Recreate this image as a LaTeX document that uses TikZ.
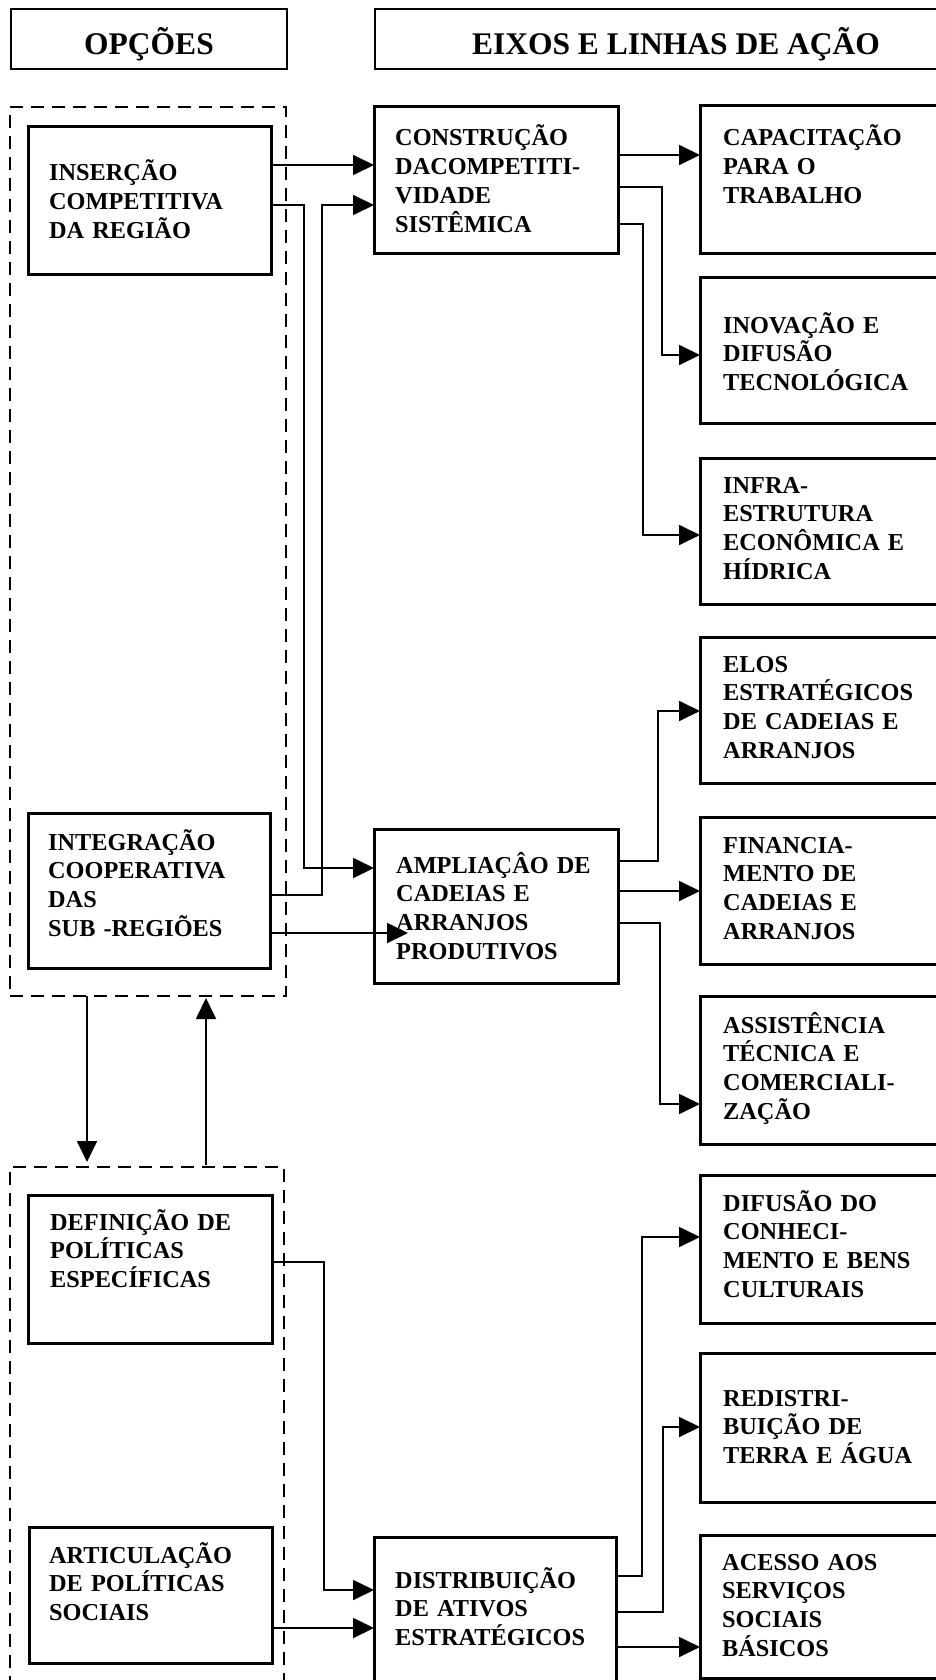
\documentclass[tikz,border=0pt]{standalone}
\usepackage{fontspec}
\setmainfont{Liberation Serif}
\usetikzlibrary{arrows.meta}
\begin{document}
\begin{tikzpicture}[x=1pt,y=-1pt,
  box/.style={draw, line width=3pt, anchor=north west, inner sep=0pt, outer sep=0pt},
  hbox/.style={draw, line width=2.5pt, anchor=north west, inner sep=0pt, outer sep=0pt},
  dbox/.style={draw, line width=2.5pt, dash pattern=on 13pt off 8pt, anchor=north west, inner sep=0pt, outer sep=0pt},
  txt/.style={anchor=base west, inner sep=0pt, text width=260pt, align=left, font=\fontsize{24.3}{28.7}\selectfont\bfseries},
  htxt/.style={anchor=base, inner sep=0pt, font=\fontsize{31.5}{36}\selectfont\bfseries},
  conn/.style={line width=1.8pt},
  arr/.style={conn, -{Triangle[length=21pt,width=20pt]}}
]
\useasboundingbox (0,0) rectangle (936,1680);
\clip (0,0) rectangle (936,1680);

% headers
\node[hbox, minimum width=276pt, minimum height=60pt] (hop) at (11,9) {};
\node[hbox, minimum width=600pt, minimum height=60pt] (hex) at (375,9) {};
\node[htxt] (hopt) at (149,55) {OPÇÕES};
\node[htxt] (hext) at (676,55) {EIXOS E LINHAS DE AÇÃO};

% dashed groups
\node[dbox, minimum width=276pt, minimum height=889pt] (up) at (10,107) {};
\node[dbox, minimum width=274pt, minimum height=560pt] (lo) at (10,1167) {};

% left boxes
\node[box, minimum width=243pt, minimum height=147pt] (ins) at (28,127) {};
\node[box, minimum width=242pt, minimum height=155pt] (int) at (28,813) {};
\node[box, minimum width=244pt, minimum height=148pt] (def) at (28,1195) {};
\node[box, minimum width=243pt, minimum height=136pt] (art) at (29,1527) {};

% middle boxes
\node[box, minimum width=244pt, minimum height=147pt] (con) at (374,107) {};
\node[box, minimum width=244pt, minimum height=154pt] (amp) at (374,829) {};
\node[box, minimum width=242pt, minimum height=200pt] (dis) at (374,1537) {};

% right boxes
\node[box, minimum width=260pt, minimum height=148pt] (cap) at (700,106) {};
\node[box, minimum width=260pt, minimum height=146pt] (inov) at (700,277) {};
\node[box, minimum width=260pt, minimum height=146pt] (infra) at (700,458) {};
\node[box, minimum width=260pt, minimum height=146pt] (elos) at (700,637) {};
\node[box, minimum width=260pt, minimum height=147pt] (fin) at (700,817) {};
\node[box, minimum width=260pt, minimum height=148pt] (ass) at (700,996) {};
\node[box, minimum width=260pt, minimum height=148pt] (dif) at (700,1175) {};
\node[box, minimum width=260pt, minimum height=149pt] (red) at (700,1353) {};
\node[box, minimum width=260pt, minimum height=143pt] (acc) at (700,1535) {};

% texts
\node[txt] (inst) at (49,181) {INSERÇÃO\\COMPETITIVA\\DA REGIÃO};
\node[txt] (intt) at (48,850) {INTEGRAÇÃO\\COOPERATIVA\\DAS\\SUB -REGIÕES};
\node[txt] (deft) at (50,1230) {DEFINIÇÃO DE\\POLÍTICAS\\ESPECÍFICAS};
\node[txt] (artt) at (49,1563) {ARTICULAÇÃO\\DE POLÍTICAS\\SOCIAIS};
\node[txt] (cont) at (395,146) {CONSTRUÇÃO\\DACOMPETITI-\\VIDADE\\SISTÊMICA};
\node[txt] (ampt) at (396,873) {AMPLIAÇÂO DE\\CADEIAS E\\ARRANJOS\\PRODUTIVOS};
\node[txt] (dist) at (395,1588) {DISTRIBUIÇÃO\\DE ATIVOS\\ESTRATÉGICOS};
\node[txt] (capt) at (723,146) {CAPACITAÇÃO\\PARA O\\TRABALHO};
\node[txt] (inovt) at (723,333) {INOVAÇÃO E\\DIFUSÃO\\TECNOLÓGICA};
\node[txt] (infrat) at (723,493) {INFRA-\\ESTRUTURA\\ECONÔMICA E\\HÍDRICA};
\node[txt] (elost) at (723,672) {ELOS\\ESTRATÉGICOS\\DE CADEIAS E\\ARRANJOS};
\node[txt] (fint) at (723,853) {FINANCIA-\\MENTO DE\\CADEIAS E\\ARRANJOS};
\node[txt] (asst) at (723,1033) {ASSISTÊNCIA\\TÉCNICA E\\COMERCIALI-\\ZAÇÃO};
\node[txt] (dift) at (723,1211) {DIFUSÃO DO\\CONHECI-\\MENTO E BENS\\CULTURAIS};
\node[txt] (redt) at (723,1406) {REDISTRI-\\BUIÇÃO DE\\TERRA E ÁGUA};
\node[txt] (acct) at (722,1570) {ACESSO AOS\\SERVIÇOS\\SOCIAIS\\BÁSICOS};

% connectors
\coordinate (ampin) at ([xshift=34pt]amp.west);
\draw[arr] (ins.east |- 0,165) -- (con.west |- 0,165);
\draw[arr] (ins.east |- 0,205) -| (304,868) -- (amp.west |- 0,868);
\draw[arr] (int.east |- 0,895) -| (322,205) -- (con.west |- 0,205);
\draw[arr] (int.east |- 0,933) -- (ampin |- 0,933);
\draw[arr] (con.east |- 0,155) -- (cap.west |- 0,155);
\draw[arr] (con.east |- 0,187) -| (662,355) -- (inov.west |- 0,355);
\draw[arr] (con.east |- 0,224) -| (643,535) -- (infra.west |- 0,535);
\draw[arr] (amp.east |- 0,861) -| (658,711) -- (elos.west |- 0,711);
\draw[arr] (amp.east |- 0,891) -- (fin.west |- 0,891);
\draw[arr] (amp.east |- 0,923) -| (660,1104) -- (ass.west |- 0,1104);
\draw[arr, shorten >=5pt] (up.south -| 87,0) -- (lo.north -| 87,0);
\draw[arr, shorten <=2pt, shorten >=2pt] (lo.north -| 206,0) -- (up.south -| 206,0);
\draw[arr] (def.east |- 0,1262) -| (324,1590) -- (dis.west |- 0,1590);
\draw[arr] (art.east |- 0,1628) -- (dis.west |- 0,1628);
\draw[arr] (dis.east |- 0,1576) -| (642,1237) -- (dif.west |- 0,1237);
\draw[arr] (dis.east |- 0,1612) -| (663,1427) -- (red.west |- 0,1427);
\draw[arr] (dis.east |- 0,1647) -- (acc.west |- 0,1647);
\end{tikzpicture}
\end{document}
